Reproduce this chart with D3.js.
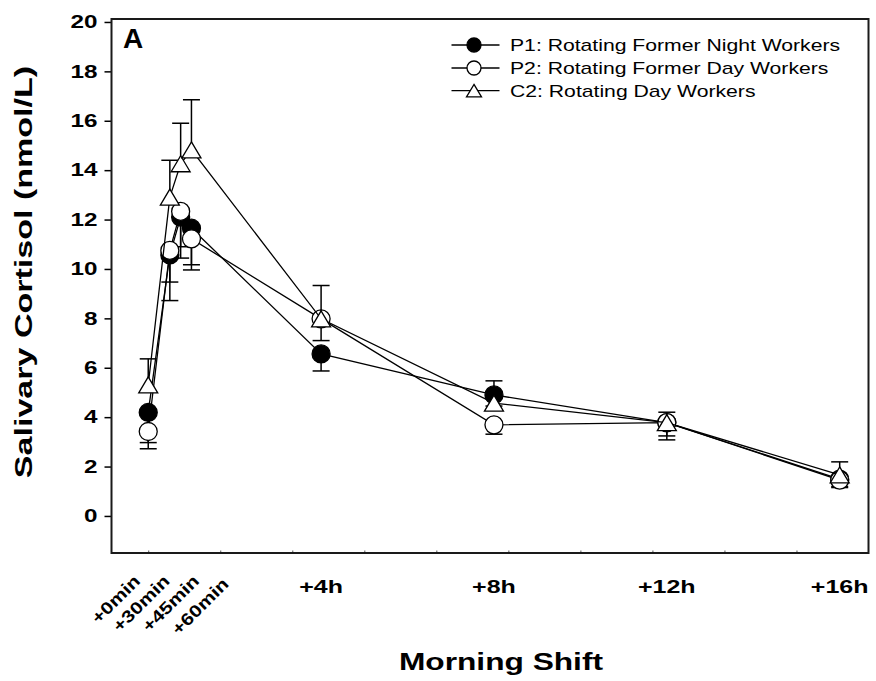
<!DOCTYPE html>
<html>
<head>
<meta charset="utf-8">
<script src="https://cdn.jsdelivr.net/npm/d3@7"></script>
<style>
  body { margin: 0; background: #fff; }
  svg { display: block; }
  text { font-family: "Liberation Sans", Arial, sans-serif; fill: #000; }
</style>
</head>
<body>
<svg id="chart" width="876" height="681"></svg>
<script>
// Sampling times, minutes after the start of the morning shift
const times = [0, 30, 45, 60, 240, 480, 720, 960];
const timeLabels = ["+0min", "+30min", "+45min", "+60min", "+4h", "+8h", "+12h", "+16h"];
const seriesNames = [
  "P1: Rotating Former Night Workers",
  "P2: Rotating Former Day Workers",
  "C2: Rotating Day Workers"
];
// Salivary cortisol means and SEM (nmol/L)
const p1Mean = [4.19, 10.57, 12.10, 11.65, 6.56, 4.90, 3.78, 1.49];
const p1Err  = [1.22, 1.85, 1.20, 1.69, 0.69, 0.45, 0.70, 0.30];
const p2Mean = [3.42, 10.75, 12.33, 11.22, 7.98, 3.69, 3.78, 1.45];
const p2Err  = [0.70, 1.28, 1.89, 1.05, 0.88, 0.38, 0.54, 0.30];
const c2Mean = [5.31, 12.91, 14.26, 14.82, 7.98, 4.57, 3.78, 1.66];
const c2Err  = [1.05, 1.49, 1.64, 2.03, 1.35, 0.90, 0.42, 0.53];
const yTicks = [0, 2, 4, 6, 8, 10, 12, 14, 16, 18, 20];
const xMinorTicks = [0, 100, 200, 300, 400, 500, 600, 700, 800, 900];

const svg = d3.select("#chart");
const W = 876, H = 681;
const plot = { left: 111.5, right: 868.5, top: 19, bottom: 553 };

const x = d3.scaleLinear().domain([-51, 1000]).range([plot.left, plot.right]);
const y = d3.scaleLinear().domain([-1.5, 20.12]).range([plot.bottom, plot.top]);

svg.append("rect").attr("width", W).attr("height", H).attr("fill", "#fff");

// widen glyphs horizontally so text keeps its broad look
function widen(sel, k) {
  sel.each(function () {
    const w = this.getComputedTextLength();
    this.setAttribute("textLength", (w * k).toFixed(1));
    this.setAttribute("lengthAdjust", "spacingAndGlyphs");
  });
}

// Y axis (ticks outside, left)
const yAxis = svg.append("g")
  .attr("transform", `translate(${plot.left},0)`)
  .call(d3.axisLeft(y).tickValues(yTicks).tickSize(7).tickPadding(7).tickFormat(d3.format("d")));
yAxis.select(".domain").remove();
yAxis.selectAll(".tick line").attr("stroke", "#000").attr("stroke-width", 1.5);
yAxis.selectAll(".tick text")
  .attr("font-size", 18).attr("font-weight", "bold")
  .style("font-family", '"Liberation Sans", Arial, sans-serif');
widen(yAxis.selectAll(".tick text"), 1.35);

// X axis: small inward ticks along the bottom frame
const xAxis = svg.append("g")
  .attr("transform", `translate(0,${plot.bottom})`)
  .call(d3.axisTop(x).tickValues(xMinorTicks).tickSize(2.5).tickFormat(""));
xAxis.select(".domain").remove();
xAxis.selectAll(".tick line").attr("stroke", "#555").attr("stroke-width", 1);

// Hour labels centred under their sampling times
const hourIdx = [4, 5, 6, 7];
const hourLbl = svg.append("g").selectAll("text").data(hourIdx).join("text")
  .attr("x", i => x(times[i]))
  .attr("y", 592.5)
  .attr("text-anchor", "middle")
  .attr("font-size", 18.5).attr("font-weight", "bold")
  .text(i => timeLabels[i]);
widen(hourLbl, 1.35);

// Early-minute labels, slanted and spread evenly
const minIdx = [0, 1, 2, 3];
const minLbl = svg.append("g").selectAll("text").data(minIdx).join("text")
  .attr("transform", (i, k) => `translate(${x(times[0]) - 7 + k * 29.5},${582 + (k === 3 ? 3 : 0)}) rotate(-45)`)
  .attr("text-anchor", "end")
  .attr("font-size", 17).attr("font-weight", "bold")
  .text(i => timeLabels[i]);
widen(minLbl, 1.22);

// Frame
svg.append("rect")
  .attr("x", plot.left).attr("y", plot.top)
  .attr("width", plot.right - plot.left).attr("height", plot.bottom - plot.top)
  .attr("fill", "none").attr("stroke", "#1a1a1a").attr("stroke-width", 2);

// Axis titles
const yTitle = svg.append("text")
  .attr("transform", `translate(32,272) rotate(-90)`)
  .attr("text-anchor", "middle")
  .attr("font-size", 23).attr("font-weight", "bold")
  .text("Salivary Cortisol (nmol/L)");
widen(yTitle, 1.48);

const xTitle = svg.append("text")
  .attr("x", 501).attr("y", 670)
  .attr("text-anchor", "middle")
  .attr("font-size", 24).attr("font-weight", "bold")
  .text("Morning Shift");
widen(xTitle, 1.32);

svg.append("text")
  .attr("x", 123).attr("y", 48)
  .attr("font-size", 28).attr("font-weight", "bold")
  .text("A");

// Markers
const triW = 19, triH = 16;
function triangle(w, h) {
  return `M0,${-h / 2}L${w / 2},${h / 2}L${-w / 2},${h / 2}Z`;
}

const series = [
  { name: seriesNames[0], mean: p1Mean, err: p1Err, dir: -1, kind: "circle", fill: "#000" },
  { name: seriesNames[1], mean: p2Mean, err: p2Err, dir: -1, kind: "circle", fill: "#fff" },
  { name: seriesNames[2], mean: c2Mean, err: c2Err, dir: 1, kind: "triangle", fill: "#fff" }
];

const line = d3.line().x(d => x(d.t)).y(d => y(d.v));
const capHalf = 8.5;

series.forEach(s => {
  const pts = times.map((t, i) => ({ t, v: s.mean[i], e: s.err[i] }));
  const g = svg.append("g");
  g.append("path").attr("d", line(pts))
    .attr("fill", "none").attr("stroke", "#000").attr("stroke-width", 1.3);
  // one-sided error bars
  const eb = g.append("g").selectAll("g").data(pts).join("g");
  eb.append("line")
    .attr("x1", d => x(d.t)).attr("x2", d => x(d.t))
    .attr("y1", d => y(d.v)).attr("y2", d => y(d.v + s.dir * d.e))
    .attr("stroke", "#000").attr("stroke-width", 1.5);
  eb.append("line")
    .attr("x1", d => x(d.t) - capHalf).attr("x2", d => x(d.t) + capHalf)
    .attr("y1", d => y(d.v + s.dir * d.e)).attr("y2", d => y(d.v + s.dir * d.e))
    .attr("stroke", "#000").attr("stroke-width", 1.5);
  if (s.kind === "circle") {
    g.append("g").selectAll("circle").data(pts).join("circle")
      .attr("cx", d => x(d.t)).attr("cy", d => y(d.v)).attr("r", 9)
      .attr("fill", s.fill).attr("stroke", "#000").attr("stroke-width", 1.3);
  } else {
    g.append("g").selectAll("path").data(pts).join("path")
      .attr("transform", d => `translate(${x(d.t)},${y(d.v)})`)
      .attr("d", triangle(triW, triH))
      .attr("fill", s.fill).attr("stroke", "#000").attr("stroke-width", 1.3)
      .attr("stroke-linejoin", "miter");
  }
});

// Legend
const legend = svg.append("g");
const legX0 = 451.5, legX1 = 499.5, legMid = 474, legText = 510;
const legRows = [45, 68, 90.7];
series.forEach((s, i) => {
  const cy = legRows[i];
  legend.append("line").attr("x1", legX0).attr("x2", legX1).attr("y1", cy).attr("y2", cy)
    .attr("stroke", "#000").attr("stroke-width", 1.3);
  if (s.kind === "circle") {
    legend.append("circle").attr("cx", legMid).attr("cy", cy).attr("r", 7)
      .attr("fill", s.fill).attr("stroke", "#000").attr("stroke-width", 1.3);
  } else {
    legend.append("path").attr("transform", `translate(${legMid},${cy})`)
      .attr("d", triangle(15, 12.5))
      .attr("fill", s.fill).attr("stroke", "#000").attr("stroke-width", 1.3);
  }
  const t = legend.append("text").attr("x", legText).attr("y", cy + 6)
    .attr("font-size", 17).text(s.name);
  widen(t, 1.245);
});
</script>
</body>
</html>
